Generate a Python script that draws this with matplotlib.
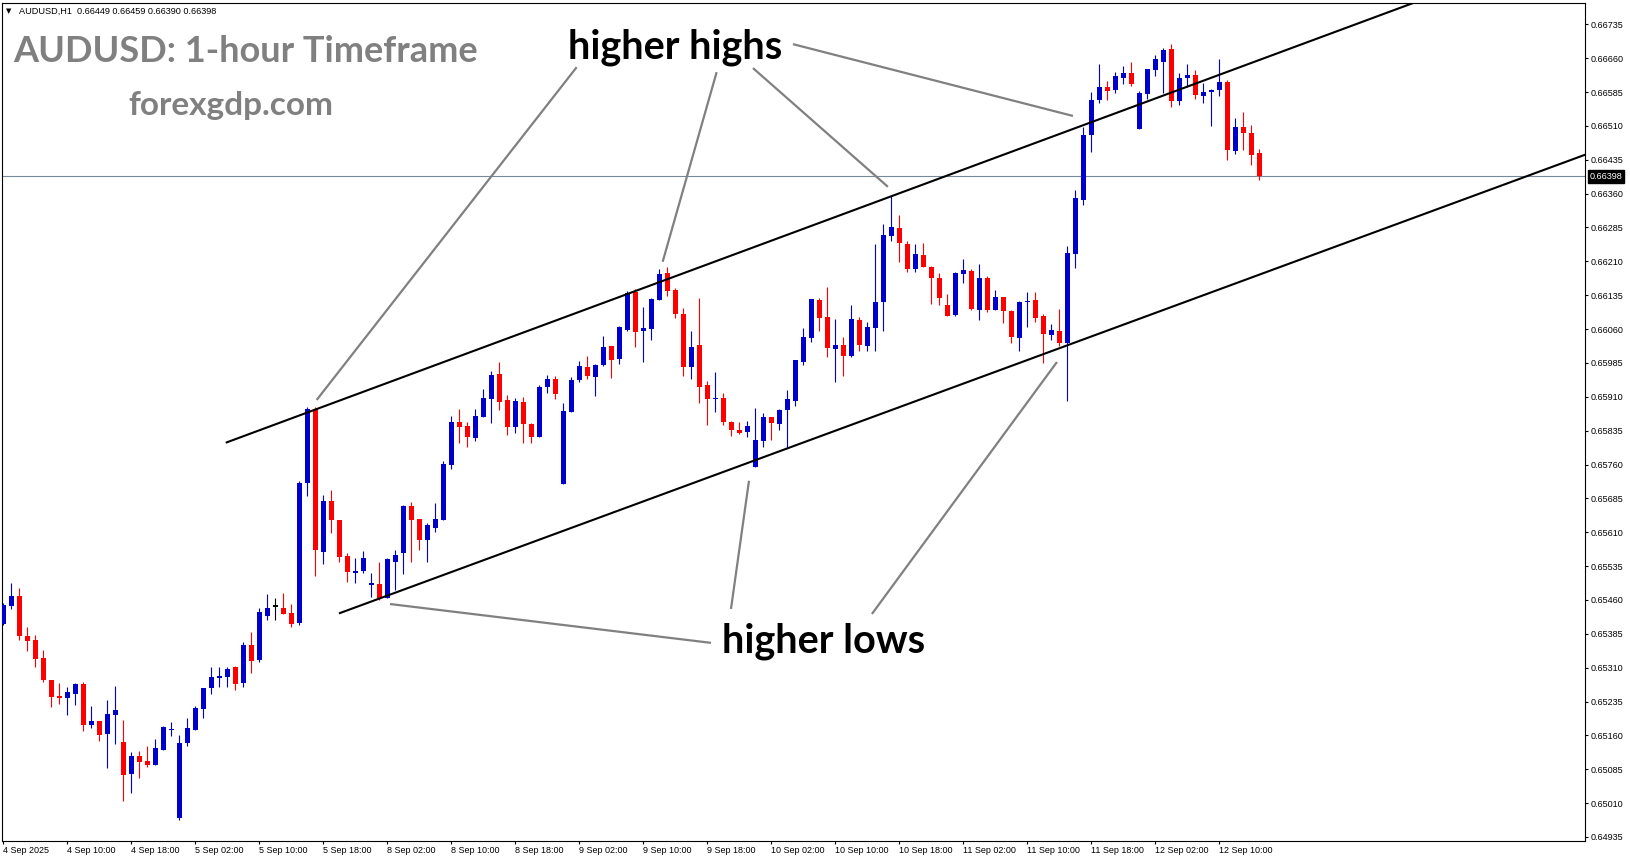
import matplotlib
matplotlib.use("Agg")
import matplotlib.pyplot as plt
import numpy as np

# AUDUSD H1 candles, bar 0 = 4 Sep 2025 02:00
opens = [0.65407, 0.65447, 0.65469, 0.65380, 0.65371, 0.65331, 0.65283, 0.65248, 0.65243, 0.65252,
         0.65274, 0.65183, 0.65192, 0.65164, 0.65205, 0.65146, 0.65075, 0.65114, 0.65103, 0.65095,
         0.65128, 0.65172, 0.64977, 0.65143, 0.65172, 0.65218, 0.65265, 0.65287, 0.65289, 0.65311,
         0.65276, 0.65360, 0.65327, 0.65424, 0.65445, 0.65442, 0.65431, 0.65410, 0.65720, 0.65883,
         0.65567, 0.65679, 0.65637, 0.65557, 0.65520, 0.65525, 0.65494, 0.65496, 0.65465, 0.65544,
         0.65565, 0.65668, 0.65639, 0.65593, 0.65620, 0.65638, 0.65760, 0.65855, 0.65845, 0.65819,
         0.65866, 0.65906, 0.65961, 0.65903, 0.65844, 0.65898, 0.65850, 0.65822, 0.65931, 0.65950,
         0.65717, 0.65877, 0.65948, 0.65976, 0.65954, 0.65981, 0.66022, 0.65994, 0.66059, 0.66143,
         0.66056, 0.66061, 0.66125, 0.66184, 0.66147, 0.66093, 0.65977, 0.66025, 0.65936, 0.65904,
         0.65907, 0.65855, 0.65836, 0.65833, 0.65755, 0.65813, 0.65866, 0.65850, 0.65880, 0.65901,
         0.65988, 0.66041, 0.66125, 0.66087, 0.66016, 0.66025, 0.66001, 0.66081, 0.66023, 0.66063,
         0.66121, 0.66267, 0.66284, 0.66249, 0.66194, 0.66225, 0.66198, 0.66172, 0.66114, 0.66092,
         0.66183, 0.66189, 0.66103, 0.66172, 0.66103, 0.66132, 0.66101, 0.66041, 0.66119, 0.66125,
         0.66090, 0.66047, 0.66056, 0.66030, 0.66227, 0.66346, 0.66490, 0.66568, 0.66597, 0.66590,
         0.66617, 0.66626, 0.66504, 0.66581, 0.66634, 0.66652, 0.66681, 0.66564, 0.66617, 0.66623,
         0.66577, 0.66586, 0.66590, 0.66608, 0.66455, 0.66507, 0.66494, 0.66449]
highs = [0.65453, 0.65498, 0.65487, 0.65399, 0.65383, 0.65349, 0.65283, 0.65275, 0.65268, 0.65275,
         0.65278, 0.65225, 0.65192, 0.65238, 0.65269, 0.65194, 0.65123, 0.65126, 0.65137, 0.65152,
         0.65181, 0.65190, 0.65161, 0.65199, 0.65225, 0.65265, 0.65311, 0.65311, 0.65311, 0.65314,
         0.65367, 0.65389, 0.65442, 0.65473, 0.65464, 0.65475, 0.65451, 0.65723, 0.65888, 0.65887,
         0.65692, 0.65704, 0.65637, 0.65565, 0.65553, 0.65568, 0.65519, 0.65545, 0.65553, 0.65571,
         0.65670, 0.65678, 0.65639, 0.65631, 0.65675, 0.65768, 0.65868, 0.65884, 0.65854, 0.65884,
         0.65928, 0.65968, 0.65987, 0.65915, 0.65908, 0.65910, 0.65853, 0.65937, 0.65959, 0.65955,
         0.65896, 0.65954, 0.65990, 0.66000, 0.65983, 0.66045, 0.66022, 0.66067, 0.66144, 0.66148,
         0.66108, 0.66129, 0.66193, 0.66197, 0.66150, 0.66106, 0.66056, 0.66129, 0.65945, 0.65965,
         0.65918, 0.65857, 0.65855, 0.65857, 0.65886, 0.65875, 0.65866, 0.65884, 0.65926, 0.65992,
         0.66063, 0.66127, 0.66129, 0.66154, 0.66083, 0.66043, 0.66114, 0.66087, 0.66076, 0.66249,
         0.66293, 0.66355, 0.66313, 0.66256, 0.66249, 0.66251, 0.66200, 0.66185, 0.66138, 0.66187,
         0.66216, 0.66194, 0.66203, 0.66178, 0.66147, 0.66132, 0.66103, 0.66123, 0.66143, 0.66141,
         0.66094, 0.66072, 0.66105, 0.66245, 0.66369, 0.66508, 0.66586, 0.66646, 0.66610, 0.66630,
         0.66643, 0.66652, 0.66588, 0.66637, 0.66668, 0.66683, 0.66692, 0.66628, 0.66646, 0.66634,
         0.66606, 0.66592, 0.66659, 0.66612, 0.66527, 0.66541, 0.66512, 0.66459]
lows = [0.65404, 0.65441, 0.65372, 0.65347, 0.65312, 0.65279, 0.65224, 0.65230, 0.65206, 0.65227,
        0.65170, 0.65177, 0.65148, 0.65088, 0.65140, 0.65015, 0.65033, 0.65066, 0.65090, 0.65095,
        0.65128, 0.65159, 0.64973, 0.65137, 0.65172, 0.65199, 0.65252, 0.65267, 0.65267, 0.65261,
        0.65267, 0.65298, 0.65323, 0.65416, 0.65416, 0.65429, 0.65401, 0.65405, 0.65691, 0.65514,
        0.65540, 0.65609, 0.65543, 0.65500, 0.65498, 0.65519, 0.65467, 0.65460, 0.65464, 0.65481,
        0.65518, 0.65545, 0.65571, 0.65545, 0.65611, 0.65638, 0.65751, 0.65808, 0.65799, 0.65811,
        0.65866, 0.65853, 0.65881, 0.65826, 0.65830, 0.65808, 0.65808, 0.65822, 0.65919, 0.65904,
        0.65717, 0.65877, 0.65943, 0.65950, 0.65912, 0.65979, 0.65952, 0.65983, 0.66056, 0.66021,
        0.65988, 0.66036, 0.66125, 0.66134, 0.66085, 0.65957, 0.65950, 0.65897, 0.65848, 0.65877,
        0.65848, 0.65824, 0.65828, 0.65822, 0.65755, 0.65799, 0.65815, 0.65837, 0.65797, 0.65890,
        0.65981, 0.66032, 0.66056, 0.65997, 0.65943, 0.65957, 0.65999, 0.66012, 0.66012, 0.66012,
        0.66056, 0.66256, 0.66209, 0.66187, 0.66187, 0.66198, 0.66116, 0.66114, 0.66090, 0.66090,
        0.66163, 0.66103, 0.66081, 0.66098, 0.66103, 0.66074, 0.66030, 0.66012, 0.66065, 0.66076,
        0.65985, 0.66036, 0.66023, 0.65901, 0.66196, 0.66335, 0.66453, 0.66561, 0.66568, 0.66583,
        0.66603, 0.66599, 0.66504, 0.66570, 0.66621, 0.66583, 0.66552, 0.66557, 0.66597, 0.66570,
        0.66561, 0.66510, 0.66577, 0.66435, 0.66448, 0.66457, 0.66424, 0.66390]
closes = [0.65449, 0.65469, 0.65381, 0.65368, 0.65330, 0.65283, 0.65246, 0.65243, 0.65256, 0.65274,
          0.65183, 0.65192, 0.65161, 0.65207, 0.65216, 0.65072, 0.65114, 0.65101, 0.65095, 0.65132,
          0.65179, 0.65174, 0.65143, 0.65176, 0.65221, 0.65265, 0.65289, 0.65292, 0.65307, 0.65274,
          0.65360, 0.65325, 0.65433, 0.65442, 0.65445, 0.65429, 0.65407, 0.65720, 0.65883, 0.65571,
          0.65679, 0.65636, 0.65556, 0.65523, 0.65524, 0.65553, 0.65496, 0.65465, 0.65551, 0.65560,
          0.65667, 0.65636, 0.65593, 0.65627, 0.65640, 0.65762, 0.65855, 0.65844, 0.65822, 0.65867,
          0.65907, 0.65958, 0.65899, 0.65844, 0.65901, 0.65850, 0.65822, 0.65932, 0.65950, 0.65917,
          0.65879, 0.65947, 0.65979, 0.65957, 0.65981, 0.66020, 0.65992, 0.66065, 0.66139, 0.66054,
          0.66062, 0.66127, 0.66182, 0.66145, 0.66094, 0.65977, 0.66020, 0.65932, 0.65904, 0.65907,
          0.65855, 0.65837, 0.65830, 0.65845, 0.65814, 0.65865, 0.65853, 0.65881, 0.65904, 0.65992,
          0.66043, 0.66127, 0.66085, 0.66019, 0.66025, 0.66001, 0.66083, 0.66025, 0.66065, 0.66121,
          0.66269, 0.66287, 0.66251, 0.66194, 0.66227, 0.66198, 0.66172, 0.66129, 0.66090, 0.66185,
          0.66191, 0.66105, 0.66172, 0.66103, 0.66132, 0.66101, 0.66043, 0.66121, 0.66121, 0.66085,
          0.66050, 0.66059, 0.66030, 0.66229, 0.66351, 0.66490, 0.66568, 0.66595, 0.66588, 0.66621,
          0.66628, 0.66603, 0.66583, 0.66637, 0.66657, 0.66679, 0.66564, 0.66617, 0.66623, 0.66579,
          0.66586, 0.66590, 0.66608, 0.66457, 0.66507, 0.66495, 0.66446, 0.66398]

xtick_bars = list(range(0, 160, 8))
xtick_labels = ["4 Sep 2025", "4 Sep 10:00", "4 Sep 18:00", "5 Sep 02:00", "5 Sep 10:00",
                "5 Sep 18:00", "8 Sep 02:00", "8 Sep 10:00", "8 Sep 18:00", "9 Sep 02:00",
                "9 Sep 10:00", "9 Sep 18:00", "10 Sep 02:00", "10 Sep 10:00", "10 Sep 18:00",
                "11 Sep 02:00", "11 Sep 10:00", "11 Sep 18:00", "12 Sep 02:00", "12 Sep 10:00"]
yticks = np.round(0.64935 + 0.00075 * np.arange(25), 5)
last_price = 0.66398
header = "AUDUSD,H1  0.66449 0.66459 0.66390 0.66398"

# channel lines, (bar, price) points
upper_ch = [(27.9, 0.65809), (176.2, 0.66782)]
lower_ch = [(42.06, 0.65431), (197.7, 0.66446)]
# pointer lines
hh_lines = [[(71.65, 0.66640), (39.15, 0.65903)],
            [(89.15, 0.66629), (82.4, 0.66209)],
            [(93.69, 0.66638), (110.56, 0.66375)],
            [(98.69, 0.66691), (133.69, 0.66532)]]
hl_lines = [[(48.31, 0.65451), (88.44, 0.65365)],
            [(90.94, 0.65440), (93.19, 0.65724)],
            [(108.56, 0.65429), (131.69, 0.65987)]]

plt.rcParams['font.family'] = ['Liberation Sans', 'DejaVu Sans']

W, H = 1631, 861
fig = plt.figure(figsize=(W / 100, H / 100), dpi=100)
fig.patch.set_facecolor('white')
ax = fig.add_axes([2.3 / W, 1 - 840.7 / H, (1585 - 2.3) / W, (840.7 - 2.7) / H])

o = np.array(opens); h = np.array(highs); l = np.array(lows); c = np.array(closes)
x = np.arange(len(o))
cols = np.where(c > o, '#0000CC', np.where(c < o, '#FF0000', 'black'))

ax.axhline(last_price, color='#778899', lw=0.8, zorder=1)
ax.vlines(x, l, h, colors=cols, lw=0.8, zorder=2)
body = c - o
body = np.where(np.abs(body) < 0.00003, 0.00003, np.abs(body))
ax.bar(x, body, bottom=np.minimum(o, c), width=0.62, color=cols, linewidth=0, zorder=3)

# channel rays
for (x0, y0), (x1, y1) in [upper_ch, lower_ch]:
    k = (y1 - y0) / (x1 - x0)
    ax.plot([x0, 210], [y0, y0 + k * (210 - x0)], color='black', lw=1.5, zorder=4)

for seg in hh_lines + hl_lines:
    ax.plot([seg[0][0], seg[1][0]], [seg[0][1], seg[1][1]], color='#808080', lw=1.6,
            solid_capstyle='butt', zorder=5)

ax.set_xlim(-0.15, 197.7)
ax.set_ylim(0.649268, 0.667828)

ax.yaxis.tick_right()
ax.set_yticks(yticks)
ax.set_yticklabels(["%.5f" % v for v in yticks])
ax.tick_params(axis='y', direction='out', length=2.2, width=0.8, labelsize=6.5, pad=2)
ax.set_xticks(xtick_bars)
ax.set_xticklabels(xtick_labels, ha='left')
ax.tick_params(axis='x', direction='out', length=2.2, width=0.8, labelsize=6.5, pad=1.5)
for sp in ax.spines.values():
    sp.set_color('black')
    sp.set_linewidth(0.8)

ax.annotate("%.5f" % last_price, xy=(1, last_price), xycoords=('axes fraction', 'data'),
            xytext=(3.4, 0), textcoords='offset points', va='center', ha='left',
            color='white', fontsize=6.5,
            bbox=dict(boxstyle='square,pad=0.2', fc='black', ec='black'))

fig.text(6 / W, 1 - 11 / H, "\u25bc", fontsize=5, va='center', family='DejaVu Sans')
fig.text(19 / W, 1 - 11 / H, header, fontsize=6.6, va='center')

rend = fig.canvas.get_renderer()


def fit_text(x0, x1, base, s, **kw):
    t = fig.text(x0 / W, 1 - base / H, s, va='baseline', ha='left', fontsize=30, **kw)
    w = t.get_window_extent(renderer=rend).width
    t.set_fontsize(30 * (x1 - x0) / w)
    return t


fit_text(13, 477, 62, "AUDUSD: 1-hour Timeframe", color='#808080', weight='bold', family='Lato')
fit_text(128, 333, 115, "forexgdp.com", color='#808080', weight='bold', family='Lato')
fit_text(568, 782, 58.3, "higher highs", color='black', weight='bold', family='Lato')
fit_text(722, 925, 652.3, "higher lows", color='black', weight='bold', family='Lato')

fig.savefig("out.png", dpi=100)
